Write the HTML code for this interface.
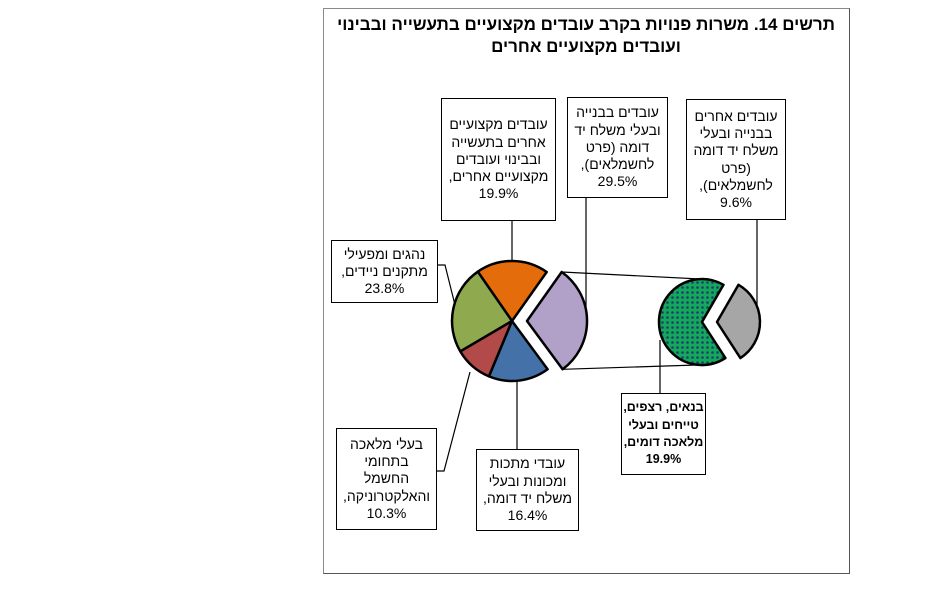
<!DOCTYPE html>
<html><head><meta charset="utf-8"><style>
body{margin:0;background:#fff;width:941px;height:595px;position:relative;overflow:hidden;font-family:"Liberation Sans","Noto Sans CJK SC",sans-serif;}
.frame{position:absolute;left:323px;top:8px;width:525px;height:564px;border:1px solid #8a8a8a;border-right-color:#555;border-bottom-color:#555;}
.title{position:absolute;left:323px;top:14px;width:526px;text-align:center;font-weight:bold;font-size:17px;line-height:22px;direction:rtl;color:#000;}
.box{position:absolute;border:1.5px solid #000;background:#fff;display:flex;align-items:center;justify-content:center;text-align:center;font-size:14px;line-height:17.3px;direction:rtl;box-sizing:border-box;color:#000;white-space:nowrap;}
svg{position:absolute;left:0;top:0;}
</style></head><body>
<div class="frame"></div>
<div class="title">תרשים 14. משרות פנויות בקרב עובדים מקצועיים בתעשייה ובבינוי<br>ועובדים מקצועיים אחרים</div>
<svg width="941" height="595">
<defs>
<pattern id="p" width="5" height="5" patternUnits="userSpaceOnUse">
<rect width="5" height="5" fill="#14a85a"/>
<circle cx="2.5" cy="2.5" r="1.3" fill="#1e3d6e"/>
</pattern>
</defs>
<g stroke="#000" stroke-width="1.2" fill="none">
<line x1="512" y1="221" x2="512" y2="262"/>
<line x1="586" y1="198" x2="586" y2="330"/>
<line x1="757" y1="220" x2="757" y2="320"/>
<polyline points="438,265 445,265 455,305"/>
<polyline points="437,471 444,471 470,372"/>
<line x1="517" y1="380" x2="517" y2="449"/>
<line x1="660" y1="340" x2="660" y2="393"/>
<line x1="561.7" y1="272" x2="710" y2="279.5"/>
<line x1="562.6" y1="369.3" x2="712" y2="364.5"/>
</g>
<g stroke="#000" stroke-width="2.5" stroke-linejoin="round">
<path d="M512 321 L477.8 271.7 A60 60 0 0 1 546.7 272 Z" fill="#e46c0a"/>
<path d="M512 321 L460.3 351.4 A60 60 0 0 1 477.8 271.7 Z" fill="#8faa4e"/>
<path d="M512 321 L489 376.4 A60 60 0 0 1 460.3 351.4 Z" fill="#b14a48"/>
<path d="M512 321 L547.6 369.3 A60 60 0 0 1 489 376.4 Z" fill="#4472a8"/>
<path d="M527 321 L561.7 272 A60 60 0 0 1 562.6 369.3 Z" fill="#b1a0c8"/>
<path d="M702 322 L725.4 358.1 A43 43 0 1 1 723.5 284.8 Z" fill="url(#p)"/>
<path d="M717 322 L738.5 284.8 A43 43 0 0 1 740.4 358.1 Z" fill="#a6a6a6"/>
</g>
</svg>
<div class="box" style="left:441px;top:98px;width:115px;height:123px;">עובדים מקצועיים<br>אחרים בתעשייה<br>ובבינוי ועובדים<br>מקצועיים אחרים,<br>19.9%</div>
<div class="box" style="left:567px;top:97px;width:101px;height:101px;">עובדים בבנייה<br>ובעלי משלח יד<br>דומה (פרט<br>לחשמלאים),<br>29.5%</div>
<div class="box" style="left:686px;top:99px;width:100px;height:121px;">עובדים אחרים<br>בבנייה ובעלי<br>משלח יד דומה<br>(פרט<br>לחשמלאים),<br>9.6%</div>
<div class="box" style="left:331px;top:240px;width:107px;height:63px;">נהגים ומפעילי<br>מתקנים ניידים,<br>23.8%</div>
<div class="box" style="left:336px;top:428px;width:101px;height:102px;">בעלי מלאכה<br>בתחומי<br>החשמל<br>והאלקטרוניקה,<br>10.3%</div>
<div class="box" style="left:476px;top:449px;width:103px;height:82px;">עובדי מתכות<br>ומכונות ובעלי<br>משלח יד דומה,<br>16.4%</div>
<div class="box" style="left:621px;top:393px;width:85px;height:82px;font-weight:bold;font-size:12.5px;">בנאים, רצפים,<br>טייחים ובעלי<br>מלאכה דומים,<br>19.9%</div>
</body></html>
